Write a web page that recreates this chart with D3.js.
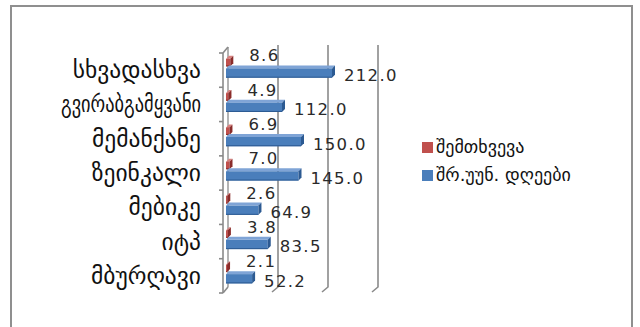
<!DOCTYPE html>
<html>
<head>
<meta charset="utf-8">
<script src="https://cdn.jsdelivr.net/npm/d3@7"></script>
<style>
  html, body { margin: 0; padding: 0; background: #fff; }
  svg { display: block; }
</style>
</head>
<body>
<svg id="chart" width="640" height="327"></svg>
<script>
// Occupations (top to bottom) and the two series per occupation
const categories = ["სხვადასხვა", "გვირაბგამყვანი", "მემანქანე", "ზეინკალი", "მებიკე", "იტპ", "მბურღავი"];
const cases = [8.6, 4.9, 6.9, 7.0, 2.6, 3.8, 2.1];
const lostDays = [212.0, 112.0, 150.0, 145.0, 64.9, 83.5, 52.2];
const seriesNames = ["შემთხვევა", "შრ.უუნ. დღეები"];
const xTicks = [0, 100, 200, 300];

const svg = d3.select("#chart");

// outer frame
svg.append("rect")
  .attr("x", 11).attr("y", 6).attr("width", 621).attr("height", 340)
  .attr("fill", "#fff").attr("stroke", "#8f8f8f").attr("stroke-width", 2);

const x = d3.scaleLinear().domain([0, 300]).range([226, 376]);
const y = d3.scaleBand().domain(categories).range([53, 293]).padding(0);

// 3D wall geometry: back wall is shifted up/right from the front plane
const wall = { top: 45, bottom: 287, dx: 2, floorDx: -4, floorY: 292 };
const depth = { dx: 3, dy: -3 };

const grid = svg.append("g").attr("stroke", "#8a8a8a").attr("stroke-width", 1.6).attr("fill", "none");
xTicks.slice(1).forEach(v => {
  const xb = x(v) + wall.dx;
  grid.append("path")
    .attr("d", `M${xb},${wall.top} L${xb},${wall.bottom} L${x(v) + wall.floorDx},${wall.floorY}`);
});

// category axis with the back-wall edge and its corners
const axisX = 223;
const backX = x(0) + wall.dx;
grid.append("path").attr("d", `M${backX},${wall.top + 2} L${backX},${wall.bottom}`).attr("stroke", "#a0a0a0");
grid.append("path").attr("d", `M${axisX},${y.range()[0]} L${axisX},${y.range()[1]}`);
grid.append("path").attr("d", `M${axisX},${y.range()[0]} L${backX},${wall.top + 2}`);
grid.append("path").attr("d", `M${axisX},${y.range()[1]} L${backX},${wall.bottom}`);
const boundaries = categories.map(c => y(c)).concat([y.range()[1]]);
boundaries.forEach(b => {
  grid.append("line").attr("x1", axisX - 4).attr("x2", axisX).attr("y1", b).attr("y2", b);
});

// one 3D bar: front face, top face, end face
function bar3d(g, x0, x1, yTop, h, colors) {
  const { dx, dy } = depth;
  g.append("polygon")
    .attr("points", [[x0, yTop], [x0 + dx, yTop + dy], [x1 + dx, yTop + dy], [x1, yTop]].join(" "))
    .attr("fill", colors.top);
  g.append("rect")
    .attr("x", x0).attr("y", yTop).attr("width", Math.max(0, x1 - x0)).attr("height", h)
    .attr("fill", colors.front);
  g.append("line")
    .attr("x1", x0).attr("x2", x1).attr("y1", yTop + h - 0.5).attr("y2", yTop + h - 0.5)
    .attr("stroke", colors.side).attr("stroke-width", 1);
  g.append("polygon")
    .attr("points", [[x1, yTop], [x1 + dx, yTop + dy], [x1 + dx, yTop + h + dy], [x1, yTop + h]].join(" "))
    .attr("fill", colors.side);
}

const red = { front: "#c0504d", top: "#d9807e", side: "#8a2c2a" };
const blue = { front: "#4a7ebb", top: "#7fa4d6", side: "#2c5a92" };

const bars = svg.append("g");
const bw = y.bandwidth();
categories.forEach((c, i) => {
  const b = y(c);
  bar3d(bars, x(0), x(cases[i]), b + bw * 0.17, bw * 0.22, red);
  bar3d(bars, x(0), x(lostDays[i]), b + bw * 0.45, bw * 0.27, blue);
});

// value labels
const labels = svg.append("g")
  .attr("font-family", "DejaVu Sans").attr("font-size", 16.5)
  .attr("letter-spacing", 1.3).attr("fill", "#2a2a2a");
categories.forEach((c, i) => {
  const b = y(c);
  labels.append("text")
    .attr("x", x(cases[i]) + 19).attr("y", b + 2.5).attr("dy", "0.36em")
    .text(cases[i].toFixed(1));
  labels.append("text")
    .attr("x", x(lostDays[i]) + 12).attr("y", b + bw * 0.45 + bw * 0.135 + 2).attr("dy", "0.36em")
    .text(lostDays[i].toFixed(1));
});

// category labels; long names are condensed to fit the label column
const maxLabelWidth = 140;
const cat = svg.append("g")
  .attr("font-family", "DejaVu Sans").attr("font-size", 23.5).attr("fill", "#111")
  .attr("text-anchor", "end");
categories.forEach(c => {
  const t = cat.append("text").attr("x", 201).attr("y", y(c) + bw / 2 + 1).attr("dy", "0.3em").text(c);
  if (t.node().getComputedTextLength() > maxLabelWidth) {
    t.attr("textLength", maxLabelWidth).attr("lengthAdjust", "spacingAndGlyphs");
  }
});

// legend
const legend = svg.append("g").attr("font-family", "DejaVu Sans").attr("font-size", 18).attr("fill", "#111");
[red, blue].forEach((col, i) => {
  const ly = 142 + i * 28;
  legend.append("rect").attr("x", 422).attr("y", ly).attr("width", 11).attr("height", 11).attr("fill", col.front);
  legend.append("text").attr("x", 436).attr("y", ly + 5.5).attr("dy", "0.32em").text(seriesNames[i]);
});
</script>
</body>
</html>
